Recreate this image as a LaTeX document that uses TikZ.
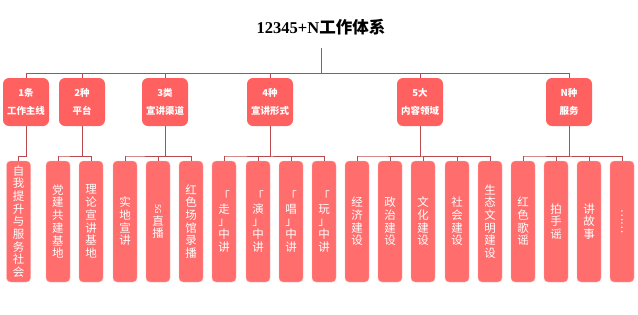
\documentclass[tikz,border=0pt]{standalone}
\usepackage{fontspec}
\setmainfont{Noto Sans CJK SC}
\newfontfamily\titlefont{Liberation Serif}
\definecolor{headred}{HTML}{FF6060}
\definecolor{leafred}{HTML}{FF6D6D}
\definecolor{linkred}{HTML}{B8494C}

\begin{document}
\begin{tikzpicture}[x=1pt,y=-1pt,
              head/.style={rounded corners=6pt,fill=headred,text=white,
                font=\bfseries\fontsize{9.5}{18}\selectfont,align=center,
                minimum width=46pt,minimum height=48pt,inner sep=0pt},
              leaf/.style={rounded corners=4pt,fill=leafred,draw=leafred!55!white,
                line width=0.4pt,text=white,font=\fontsize{11.5}{12.7}\selectfont,
                align=center,minimum width=24pt,minimum height=121pt,inner sep=0pt},
              link/.style={draw=linkred,line width=0.6pt}]
              \useasboundingbox (0,0) rectangle (638,314);
              \node[inner sep=0pt] (sys) at (321,27)
                {\fontsize{16.5}{18}\selectfont\bfseries{\titlefont 12345+N}工作体系};
              % first level
              \node[head] (h1) at (26,102)  {1条\\工作主线};
              \node[head] (h2) at (82,102)  {2种\\平台};
              \node[head] (h3) at (165,102) {3类\\宣讲渠道};
              \node[head] (h4) at (270,102) {4种\\宣讲形式};
              \node[head] (h5) at (420,102) {5大\\内容领域};
              \node[head] (h6) at (569,102) {N种\\服务};
              % second level
              \node[leaf] (l1)  at (18.5,221.5) {自\\我\\提\\升\\与\\服\\务\\社\\会};
              \node[leaf] (l2)  at (58,221.5)   {党\\建\\共\\建\\基\\地};
              \node[leaf] (l3)  at (91,221.5)   {理\\论\\宣\\讲\\基\\地};
              \node[leaf] (l4)  at (125,221.5)  {实\\地\\宣\\讲};
              \node[leaf] (l5)  at (158,221.5)  {{\fontsize{8}{8}\selectfont\rotatebox{-90}{5G}}\\直\\播};
              \node[leaf] (l6)  at (191,221.5)  {红\\色\\场\\馆\\录\\播};
              \node[leaf] (l7)  at (224,221.5)  {「\\走\\」\\中\\讲};
              \node[leaf] (l8)  at (258,221.5)  {「\\演\\」\\中\\讲};
              \node[leaf] (l9)  at (291,221.5)  {「\\唱\\」\\中\\讲};
              \node[leaf] (l10) at (324,221.5)  {「\\玩\\」\\中\\讲};
              \node[leaf] (l11) at (357,221.5)  {经\\济\\建\\设};
              \node[leaf] (l12) at (390,221.5)  {政\\治\\建\\设};
              \node[leaf] (l13) at (423,221.5)  {文\\化\\建\\设};
              \node[leaf] (l14) at (457,221.5)  {社\\会\\建\\设};
              \node[leaf] (l15) at (490,221.5)  {生\\态\\文\\明\\建\\设};
              \node[leaf] (l16) at (523,221.5)  {红\\色\\歌\\谣};
              \node[leaf] (l17) at (556,221.5)  {拍\\手\\谣};
              \node[leaf] (l18) at (589,221.5)  {讲\\故\\事};
              \node[leaf] (l19) at (622,221.5)  {\rotatebox{-90}{……}};
              % connectors
              \coordinate (bar) at (0,73);
              \coordinate (fork) at (0,156);
              \draw[link] ([yshift=-13pt]sys.south) -- (sys |- bar);
              \draw[link] (h1 |- bar) -- (h6 |- bar);
              \foreach \h in {h1,h2,h3,h4,h5,h6}
                \draw[link] (\h |- bar) -- (\h.north);
              \foreach \h/\a/\b in {h1/1/1,h2/2/3,h3/4/6,h4/7/10,h5/11/15,h6/16/19} {
                \draw[link] (\h.south) -- (\h |- fork) -- (l\a |- fork) -- (l\b |- fork);
                \foreach \k in {\a,...,\b}
                  \draw[link] (l\k |- fork) -- (l\k.north);
              }
            \end{tikzpicture}
\end{document}
